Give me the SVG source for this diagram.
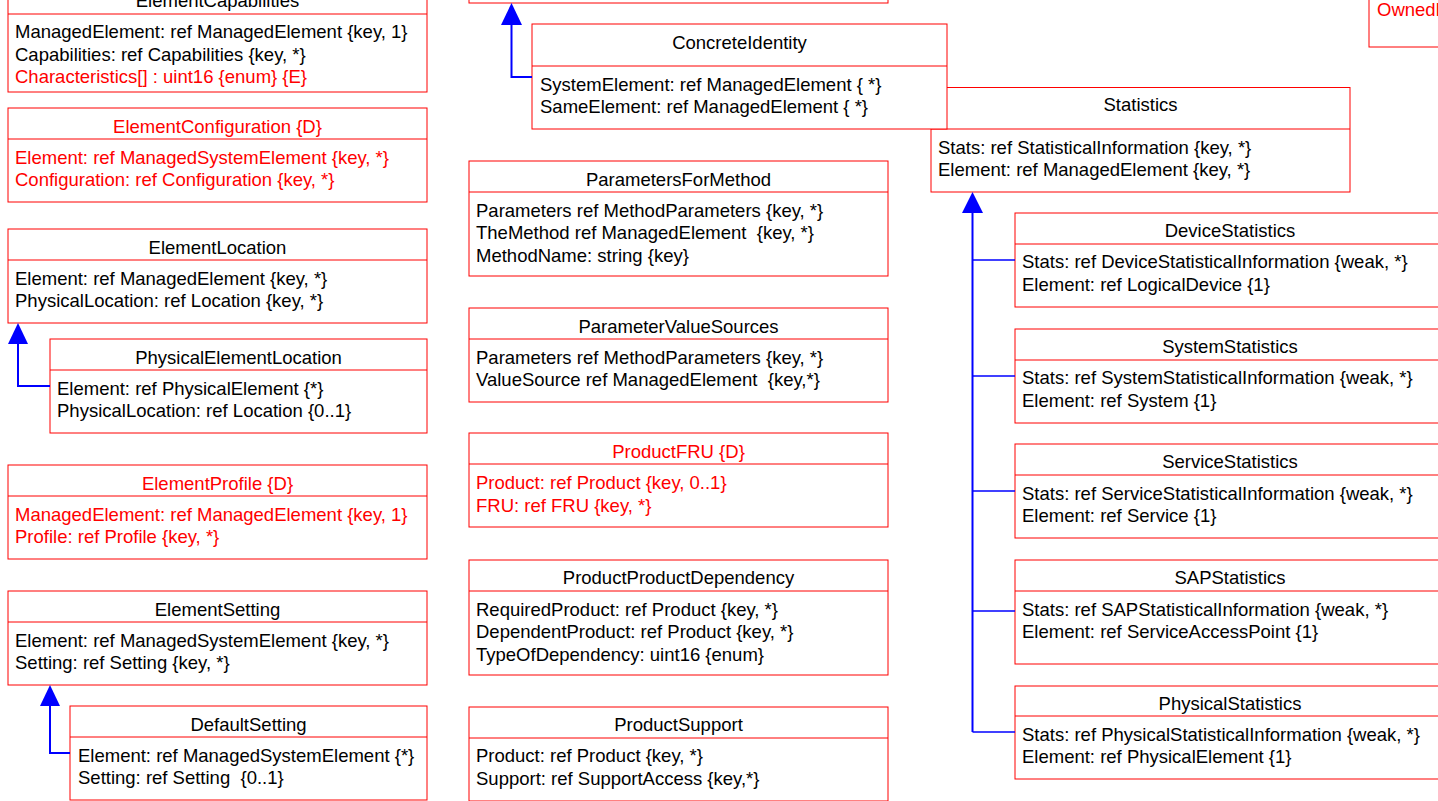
<svg xmlns="http://www.w3.org/2000/svg" width="1438" height="801" viewBox="0 0 1438 801" xml:space="preserve">
<style>
.box{fill:#fff;stroke:#f00;stroke-width:1}
.div{stroke:#f00;stroke-width:1}
text{font-family:"Liberation Sans",Arial,sans-serif;font-size:18.5px;fill:#000;white-space:pre}
text.r{fill:#f00}
text.c{text-anchor:middle}
.conn{fill:none;stroke:#00f;stroke-width:2}
.br{fill:none;stroke:#00f;stroke-width:1.5}
.head{fill:#00f;stroke:none}
</style>
<rect width="1438" height="801" fill="#fff"/>
<g id="ElementCapabilities"><rect class="box" x="8" y="-17" width="419" height="109"/><line class="div" x1="8" y1="14" x2="427" y2="14"/><text class="c" x="217.5" y="6.5">ElementCapabilities</text><text x="15" y="38">ManagedElement: ref ManagedElement {key, 1}</text><text x="15" y="60.5">Capabilities: ref Capabilities {key, *}</text><text class="r" x="15" y="83">Characteristics[] : uint16 {enum} {E}</text></g>
<g id="ElementConfiguration"><rect class="box" x="8" y="108" width="419" height="94"/><line class="div" x1="8" y1="139" x2="427" y2="139"/><text class="c r" x="217.5" y="132.5">ElementConfiguration {D}</text><text class="r" x="15" y="163.5">Element: ref ManagedSystemElement {key, *}</text><text class="r" x="15" y="186">Configuration: ref Configuration {key, *}</text></g>
<g id="ElementLocation"><rect class="box" x="8" y="229" width="419" height="94"/><line class="div" x1="8" y1="260" x2="427" y2="260"/><text class="c" x="217.5" y="253.5">ElementLocation</text><text x="15" y="284.5">Element: ref ManagedElement {key, *}</text><text x="15" y="307">PhysicalLocation: ref Location {key, *}</text></g>
<g id="PhysicalElementLocation"><rect class="box" x="50" y="339" width="377" height="94"/><line class="div" x1="50" y1="370" x2="427" y2="370"/><text class="c" x="238.5" y="363.5">PhysicalElementLocation</text><text x="57" y="394.5">Element: ref PhysicalElement {*}</text><text x="57" y="417">PhysicalLocation: ref Location {0..1}</text></g>
<g id="ElementProfile"><rect class="box" x="8" y="465" width="419" height="94"/><line class="div" x1="8" y1="496" x2="427" y2="496"/><text class="c r" x="217.5" y="489.5">ElementProfile {D}</text><text class="r" x="15" y="520.5">ManagedElement: ref ManagedElement {key, 1}</text><text class="r" x="15" y="543">Profile: ref Profile {key, *}</text></g>
<g id="ElementSetting"><rect class="box" x="8" y="591" width="419" height="94"/><line class="div" x1="8" y1="622" x2="427" y2="622"/><text class="c" x="217.5" y="615.5">ElementSetting</text><text x="15" y="646.5">Element: ref ManagedSystemElement {key, *}</text><text x="15" y="669">Setting: ref Setting {key, *}</text></g>
<g id="DefaultSetting"><rect class="box" x="70" y="706" width="357" height="94"/><line class="div" x1="70" y1="737" x2="427" y2="737"/><text class="c" x="248.5" y="730.5">DefaultSetting</text><text x="78" y="761.5">Element: ref ManagedSystemElement {*}</text><text x="78" y="784">Setting: ref Setting  {0..1}</text></g>
<g id="TopMiddle"><rect class="box" x="469" y="-100" width="419" height="103"/></g>
<g id="Statistics"><rect class="box" x="931" y="87.5" width="419" height="104.5"/><line class="div" x1="931" y1="129" x2="1350" y2="129"/><text class="c" x="1140.5" y="111">Statistics</text><text x="938" y="153.5">Stats: ref StatisticalInformation {key, *}</text><text x="938" y="176">Element: ref ManagedElement {key, *}</text></g>
<g id="ConcreteIdentity"><rect class="box" x="532" y="24" width="415" height="105"/><line class="div" x1="532" y1="66" x2="947" y2="66"/><text class="c" x="739.5" y="48.5">ConcreteIdentity</text><text x="540" y="90.5">SystemElement: ref ManagedElement { *}</text><text x="540" y="113">SameElement: ref ManagedElement { *}</text></g>
<g id="ParametersForMethod"><rect class="box" x="469" y="161" width="419" height="115"/><line class="div" x1="469" y1="192" x2="888" y2="192"/><text class="c" x="678.5" y="185.5">ParametersForMethod</text><text x="476" y="216.5">Parameters ref MethodParameters {key, *}</text><text x="476" y="239">TheMethod ref ManagedElement  {key, *}</text><text x="476" y="261.5">MethodName: string {key}</text></g>
<g id="ParameterValueSources"><rect class="box" x="469" y="308" width="419" height="94"/><line class="div" x1="469" y1="339" x2="888" y2="339"/><text class="c" x="678.5" y="332.5">ParameterValueSources</text><text x="476" y="363.5">Parameters ref MethodParameters {key, *}</text><text x="476" y="386">ValueSource ref ManagedElement  {key,*}</text></g>
<g id="ProductFRU"><rect class="box" x="469" y="433" width="419" height="94"/><line class="div" x1="469" y1="464" x2="888" y2="464"/><text class="c r" x="678.5" y="457.5">ProductFRU {D}</text><text class="r" x="476" y="489">Product: ref Product {key, 0..1}</text><text class="r" x="476" y="511.5">FRU: ref FRU {key, *}</text></g>
<g id="ProductProductDependency"><rect class="box" x="469" y="560" width="419" height="115"/><line class="div" x1="469" y1="591" x2="888" y2="591"/><text class="c" x="678.5" y="584">ProductProductDependency</text><text x="476" y="615.5">RequiredProduct: ref Product {key, *}</text><text x="476" y="638">DependentProduct: ref Product {key, *}</text><text x="476" y="660.5">TypeOfDependency: uint16 {enum}</text></g>
<g id="ProductSupport"><rect class="box" x="469" y="707" width="419" height="94"/><line class="div" x1="469" y1="738" x2="888" y2="738"/><text class="c" x="678.5" y="731">ProductSupport</text><text x="476" y="762">Product: ref Product {key, *}</text><text x="476" y="784.5">Support: ref SupportAccess {key,*}</text></g>
<g id="OwnedBox"><rect class="box" x="1369" y="-60" width="419" height="107"/><text class="r" x="1377" y="16">OwnedE</text></g>
<g id="DeviceStatistics"><rect class="box" x="1015" y="213" width="430" height="94"/><line class="div" x1="1015" y1="244" x2="1445" y2="244"/><text class="c" x="1230" y="237">DeviceStatistics</text><text x="1022" y="268">Stats: ref DeviceStatisticalInformation {weak, *}</text><text x="1022" y="290.5">Element: ref LogicalDevice {1}</text></g>
<g id="SystemStatistics"><rect class="box" x="1015" y="329" width="430" height="94"/><line class="div" x1="1015" y1="360" x2="1445" y2="360"/><text class="c" x="1230" y="352.5">SystemStatistics</text><text x="1022" y="384">Stats: ref SystemStatisticalInformation {weak, *}</text><text x="1022" y="406.5">Element: ref System {1}</text></g>
<g id="ServiceStatistics"><rect class="box" x="1015" y="444" width="430" height="94"/><line class="div" x1="1015" y1="475" x2="1445" y2="475"/><text class="c" x="1230" y="468">ServiceStatistics</text><text x="1022" y="499.5">Stats: ref ServiceStatisticalInformation {weak, *}</text><text x="1022" y="522">Element: ref Service {1}</text></g>
<g id="SAPStatistics"><rect class="box" x="1015" y="560" width="430" height="104"/><line class="div" x1="1015" y1="591" x2="1445" y2="591"/><text class="c" x="1230" y="583.5">SAPStatistics</text><text x="1022" y="615.5">Stats: ref SAPStatisticalInformation {weak, *}</text><text x="1022" y="638">Element: ref ServiceAccessPoint {1}</text></g>
<g id="PhysicalStatistics"><rect class="box" x="1015" y="686" width="430" height="93"/><line class="div" x1="1015" y1="716" x2="1445" y2="716"/><text class="c" x="1230" y="709.5">PhysicalStatistics</text><text x="1022" y="740.5">Stats: ref PhysicalStatisticalInformation {weak, *}</text><text x="1022" y="763">Element: ref PhysicalElement {1}</text></g>
<g id="connectors">
<path class="conn" d="M18 343 V386 H50"/><polygon class="head" points="18,323 8,344 28,344"/>
<path class="conn" d="M50 705 V753 H70"/><polygon class="head" points="50,685 40,706 60,706"/>
<path class="conn" d="M511.5 24 V77 H532"/><polygon class="head" points="511.5,3 501,25 522,25"/>
<path class="conn" d="M972.5 212 V732"/><polygon class="head" points="972.5,192 962,213 983,213"/>
<path class="br" d="M972.5 260 H1015"/><path class="br" d="M972.5 376 H1015"/><path class="br" d="M972.5 491 H1015"/><path class="br" d="M972.5 611 H1015"/><path class="br" d="M972.5 732 H1015"/>
</g>
</svg>
